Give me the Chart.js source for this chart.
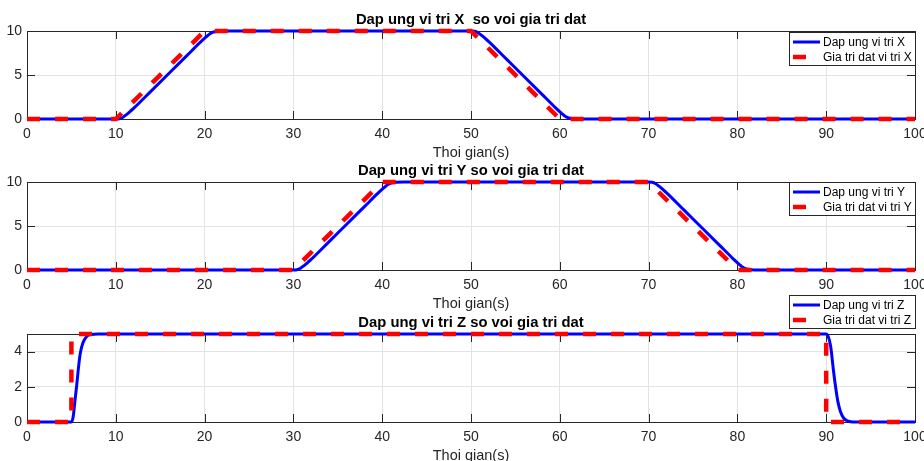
<!DOCTYPE html>
<html><head><meta charset="utf-8">
<script src="https://cdn.jsdelivr.net/npm/chart.js@4/dist/chart.umd.min.js"></script>
<style>
html,body{margin:0;padding:0;background:#fff;}
#wrap{position:relative;width:924px;height:461px;overflow:hidden;background:#fff;}
canvas{position:absolute;left:0;top:0;}
</style>
</head><body>
<div id="wrap">
<canvas id="c1" width="924" height="461"></canvas>
<canvas id="c2" width="924" height="461"></canvas>
<canvas id="c3" width="924" height="461"></canvas>
</div>
<script>
// ---- data ----
const timeTicks = [0,10,20,30,40,50,60,70,80,90,100];
const titles = ["Dap ung vi tri X  so voi gia tri dat","Dap ung vi tri Y so voi gia tri dat","Dap ung vi tri Z so voi gia tri dat"];
const respLabels = ["Dap ung vi tri X","Dap ung vi tri Y","Dap ung vi tri Z"];
const setLabels = ["Gia tri dat vi tri X","Gia tri dat vi tri Y","Gia tri dat vi tri Z"];
const xAxisLabel = "Thoi gian(s)";

const xSetT = [0,10,20,50,60,100];
const xSetV = [0,0,10,10,0,0];
const xRespT = [0,10,10.4,10.8,11.2,11.6,12,14,16,18,19.5,20.2,20.6,21,21.5,22.5,50,50.4,50.8,51.2,51.6,52,54,56,58,59.5,60.2,60.6,61,61.5,62.5,100];
const xRespV = [0,0,0.03,0.2,0.5,0.85,1.2,3.2,5.2,7.2,8.7,9.35,9.7,9.88,9.96,10,10,9.97,9.8,9.5,9.15,8.8,6.8,4.8,2.8,1.3,0.65,0.3,0.12,0.04,0,0];

const ySetT = [0,30,40,70,80,100];
const ySetV = [0,0,10,10,0,0];
const yRespT = [0,30,30.4,30.8,31.2,31.6,32,34,36,38,39.5,40.2,40.6,41,41.5,42.5,70,70.4,70.8,71.2,71.6,72,74,76,78,79.5,80.2,80.6,81,81.5,82.5,100];
const yRespV = [0,0,0.03,0.2,0.5,0.85,1.2,3.2,5.2,7.2,8.7,9.35,9.7,9.88,9.96,10,10,9.97,9.8,9.5,9.15,8.8,6.8,4.8,2.8,1.3,0.65,0.3,0.12,0.04,0,0];

const zSetT = [0,5,5,90,90,100];
const zSetV = [0,0,5,5,0,0];
const zRespT = [0,5,5.2,5.4,5.6,5.8,6.0,6.3,6.7,7.2,8,90,90.2,90.5,90.8,91.0,91.3,91.6,92,92.5,93,100];
const zRespV = [0,0,0.3,1.2,2.1,3.1,3.9,4.5,4.85,4.97,5,5,4.9,4.3,3.0,2.2,1.2,0.6,0.2,0.05,0,0];

const yTicksX = [0,5,10];
const yTicksY = [0,5,10];
const yTicksZ = [0,2,4];

// ---- drawing ----
const FONT = '"Liberation Sans", Arial, Helvetica, sans-serif';
const AX = '#262626';

function pts(t, v){ return t.map((x,i)=>({x:x, y:v[i]})); }

const panelPlugin = {
  id:'panel',
  beforeDatasetsDraw(chart){
    const o = chart.options.plugins.panel;
    const {ctx, chartArea:a} = chart;
    const xs = chart.scales.x, ys = chart.scales.y;
    ctx.save();
    ctx.strokeStyle = AX; ctx.lineWidth = 1;
    ctx.strokeRect(Math.round(a.left)+0.5, Math.round(a.top)+0.5, Math.round(a.right-a.left), Math.round(a.bottom-a.top));
    const L = 8;
    ctx.beginPath();
    o.xt.forEach(v=>{
      const px = Math.round(xs.getPixelForValue(v))+0.5;
      ctx.moveTo(px,a.bottom); ctx.lineTo(px,a.bottom-L);
      ctx.moveTo(px,a.top); ctx.lineTo(px,a.top+L);
    });
    o.yt.forEach(v=>{
      const py = Math.round(ys.getPixelForValue(v))+0.5;
      ctx.moveTo(a.left,py); ctx.lineTo(a.left+L,py);
      ctx.moveTo(a.right,py); ctx.lineTo(a.right-L,py);
    });
    ctx.stroke();
    ctx.restore();
  },
  afterDraw(chart){
    const o = chart.options.plugins.panel;
    const {ctx, chartArea:a} = chart;
    const cx = (a.left+a.right)/2;
    ctx.save();
    ctx.fillStyle = '#000';
    ctx.textAlign = 'center'; ctx.textBaseline = 'middle';
    ctx.font = 'bold 14.8px ' + FONT;
    ctx.fillText(o.title, cx, a.top - 11.5);
    ctx.fillStyle = AX;
    ctx.font = '14.5px ' + FONT;
    ctx.fillText(o.xlabel, cx, a.bottom + 33.5);
    // legend
    const w = 126, h = 33;
    const lx = a.right - w, ly = a.top + o.legendDy;
    ctx.fillStyle = '#fff';
    ctx.fillRect(lx, ly, w, h);
    ctx.strokeStyle = AX; ctx.lineWidth = 1;
    ctx.strokeRect(Math.round(lx)+0.5, Math.round(ly)+0.5, w, h);
    const r1 = ly + 10, r2 = ly + 25;
    ctx.strokeStyle = '#0000ff'; ctx.lineWidth = 3;
    ctx.beginPath(); ctx.moveTo(lx+4, r1); ctx.lineTo(lx+31, r1); ctx.stroke();
    ctx.strokeStyle = '#ff0000'; ctx.lineWidth = 4.5; ctx.setLineDash([13,15]);
    ctx.beginPath(); ctx.moveTo(lx+4, r2); ctx.lineTo(lx+32, r2); ctx.stroke();
    ctx.setLineDash([]);
    ctx.fillStyle = '#000'; ctx.textAlign = 'left';
    ctx.font = '12px ' + FONT;
    ctx.fillText(o.l1, lx+34, r1+0.5);
    ctx.fillText(o.l2, lx+34, r2+0.5);
    ctx.restore();
  }
};

function makeChart(id, idx, respT, respV, setT, setV, yMax, yTicks, top, bottom, legendDy){
  const xAxisH = 30;
  new Chart(document.getElementById(id), {
    type:'line',
    data:{datasets:[
      {label:setLabels[idx], data:pts(setT,setV), borderColor:'#ff0000', borderWidth:4.5, borderDash:[13,15], pointRadius:0, tension:0, order:0, clip:false},
      {label:respLabels[idx], data:pts(respT,respV), borderColor:'#0000ff', borderWidth:3, pointRadius:0, cubicInterpolationMode:'monotone', order:1, clip:false}
    ]},
    options:{
      responsive:false, animation:false, devicePixelRatio:1,
      layout:{padding:{left:0, right:9, top:top, bottom:461-bottom-xAxisH}},
      plugins:{legend:{display:false}, tooltip:{enabled:false}, title:{display:false},
        panel:{title:titles[idx], xlabel:xAxisLabel, l1:respLabels[idx], l2:setLabels[idx], xt:timeTicks, yt:yTicks, legendDy:legendDy}},
      scales:{
        x:{type:'linear', min:0, max:100,
          afterBuildTicks:(s)=>{ s.ticks = timeTicks.map(v=>({value:v})); },
          afterFit:(s)=>{ s.height = xAxisH; s.paddingLeft = 0; s.paddingRight = 0; },
          ticks:{font:{family:FONT, size:14}, color:AX, padding:7, maxRotation:0, autoSkip:false},
          grid:{color:'#e3e3e3', lineWidth:1, drawTicks:false}, border:{display:false}},
        y:{type:'linear', min:0, max:yMax,
          afterBuildTicks:(s)=>{ s.ticks = yTicks.map(v=>({value:v})); },
          afterFit:(s)=>{ s.width = 27; s.paddingTop = 0; s.paddingBottom = 0; },
          ticks:{font:{family:FONT, size:14}, color:AX, padding:5},
          grid:{color:'#e3e3e3', lineWidth:1, drawTicks:false}, border:{display:false}}
      }
    },
    plugins:[panelPlugin]
  });
}

makeChart('c1', 0, xRespT, xRespV, xSetT, xSetV, 10, yTicksX, 31, 119, 1);
makeChart('c2', 1, yRespT, yRespV, ySetT, ySetV, 10, yTicksY, 182, 270, 0);
makeChart('c3', 2, zRespT, zRespV, zSetT, zSetV, 5, yTicksZ, 334, 422, -39);
</script>
</body></html>
